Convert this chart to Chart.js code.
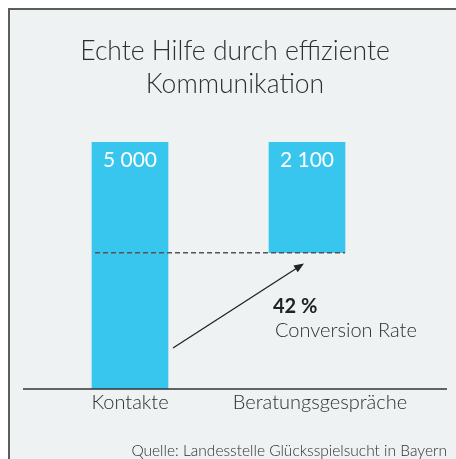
<!DOCTYPE html>
<html><head><meta charset="utf-8">
<script src="https://cdn.jsdelivr.net/npm/chart.js@4/dist/chart.umd.min.js"></script>
<style>
html,body{margin:0;padding:0;background:#fff;overflow:hidden;width:456px;height:459px;}
#frame{position:absolute;left:8px;top:8px;width:460px;height:470px;border-left:2px solid #5c5c5c;border-top:2px solid #5c5c5c;background:#eef2f2;}
#c{position:absolute;left:0;top:0;}
</style></head><body>
<div id="frame"></div>
<canvas id="c" width="456" height="459"></canvas>
<script>
const categories = ['Kontakte', 'Beratungsgespräche'];
const values = [5000, 2100];
const barBases = [0, 2760];
const barTops = [5000, 5000];
const conversionRate = 42;
const arrowValues = [830, 2540];
const titleLines = ['Echte Hilfe durch effiziente', 'Kommunikation'];
const sourceText = 'Quelle: Landesstelle Glücksspielsucht in Bayern';

const fmt = v => String(v).replace(/\B(?=(\d{3})+(?!\d))/g, ' ');
const FONT = 'Lato';
const TEXT = '#2f2f2f';
const TICK_PAD = 2;
const TICK_SIZE = 20;

const overlay = {
  id: 'overlay',
  afterDatasetsDraw(chart) {
    const ctx = chart.ctx;
    const y = chart.scales.y;
    const xs = chart.scales.x;
    const bars = chart.getDatasetMeta(0).data;
    const b1 = bars[0], b2 = bars[1];
    ctx.save();
    // baseline
    const y0 = y.getPixelForValue(0);
    ctx.strokeStyle = '#333';
    ctx.lineWidth = 1.5;
    ctx.beginPath();
    ctx.moveTo(chart.scales.y.left, y0);
    ctx.lineTo(chart.scales.y2.right, y0);
    ctx.stroke();
    // category labels (second one sits a little right of its bar, as in the original)
    ctx.fillStyle = TEXT;
    ctx.font = '300 ' + TICK_SIZE + 'px ' + FONT;
    ctx.textAlign = 'center';
    ctx.textBaseline = 'middle';
    const ly = xs.top + TICK_PAD + TICK_SIZE * 1.2 / 2;
    categories.forEach((c, i) => {
      ctx.fillText(c, xs.getPixelForTick(i) + (i === 1 ? 13 : 0), ly);
    });
    // dashed line
    const yd = y.getPixelForValue(barBases[1]);
    ctx.setLineDash([5, 3]);
    ctx.strokeStyle = '#555';
    ctx.beginPath();
    ctx.moveTo(b1.x - b1.width / 2 + 3, yd);
    ctx.lineTo(b2.x + b2.width / 2, yd);
    ctx.stroke();
    ctx.setLineDash([]);
    // arrow
    const x1 = b1.x + b1.width / 2 + 5, y1 = y.getPixelForValue(arrowValues[0]);
    const x2 = b2.x - b2.width / 2 + 35, y2 = y.getPixelForValue(arrowValues[1]);
    ctx.strokeStyle = '#222';
    ctx.fillStyle = '#222';
    ctx.lineWidth = 1.3;
    const ang = Math.atan2(y2 - y1, x2 - x1);
    ctx.beginPath();
    ctx.moveTo(x1, y1);
    ctx.lineTo(x2 - 6 * Math.cos(ang), y2 - 6 * Math.sin(ang));
    ctx.stroke();
    ctx.beginPath();
    ctx.moveTo(x2, y2);
    ctx.lineTo(x2 - 10 * Math.cos(ang) + 4 * Math.sin(ang), y2 - 10 * Math.sin(ang) - 4 * Math.cos(ang));
    ctx.lineTo(x2 - 10 * Math.cos(ang) - 4 * Math.sin(ang), y2 - 10 * Math.sin(ang) + 4 * Math.cos(ang));
    ctx.closePath();
    ctx.fill();
    // value labels
    ctx.fillStyle = '#ffffff';
    ctx.textAlign = 'center';
    ctx.textBaseline = 'alphabetic';
    ctx.font = '400 21px ' + FONT;
    bars.forEach((b, i) => {
      ctx.fillText(fmt(values[i]), b.x, b.y + 25);
    });
    // conversion rate
    ctx.textAlign = 'left';
    ctx.fillStyle = '#222';
    ctx.font = '700 20px ' + FONT;
    const tx = b2.x - b2.width / 2 + 4;
    ctx.fillText(conversionRate + ' %', tx, yd + 60);
    ctx.fillStyle = TEXT;
    ctx.font = '300 20px ' + FONT;
    ctx.fillText('Conversion Rate', tx + 2, yd + 84);
    ctx.restore();
  }
};

new Chart(document.getElementById('c'), {
  type: 'bar',
  data: {
    labels: categories,
    datasets: [{
      data: categories.map((_, i) => [barBases[i], barTops[i]]),
      backgroundColor: '#38c5ee',
      borderWidth: 0,
      barThickness: 76
    }]
  },
  options: {
    responsive: false,
    animation: false,
    devicePixelRatio: 1,
    layout: { padding: { left: 23, right: 9, top: 9, bottom: 0 } },
    plugins: {
      legend: { display: false },
      tooltip: { enabled: false },
      title: {
        display: true,
        text: titleLines,
        color: TEXT,
        font: { family: FONT, size: 26.5, weight: 300, lineHeight: 1.245 },
        padding: { top: 26, bottom: 41 }
      },
      subtitle: {
        display: true,
        position: 'bottom',
        align: 'end',
        text: sourceText,
        color: TEXT,
        font: { family: FONT, size: 15.5, weight: 300, lineHeight: 1 },
        padding: { top: 26, bottom: 0.5 }
      }
    },
    scales: {
      x: {
        grid: { display: false, drawTicks: false },
        border: { display: false },
        ticks: { color: 'rgba(0,0,0,0)', font: { family: FONT, size: TICK_SIZE, weight: 300 }, padding: TICK_PAD, maxRotation: 0, minRotation: 0, autoSkip: false }
      },
      y: {
        position: 'left',
        min: 0, max: 5000,
        grid: { display: false, drawTicks: false },
        border: { display: false },
        ticks: { display: false },
        afterFit(s) { s.width = 18.5; }
      },
      y2: {
        type: 'linear',
        position: 'right',
        grid: { display: false, drawTicks: false },
        border: { display: false },
        ticks: { display: false },
        afterFit(s) { s.width = 51.5; }
      }
    }
  },
  plugins: [overlay]
});
</script>
</body></html>
